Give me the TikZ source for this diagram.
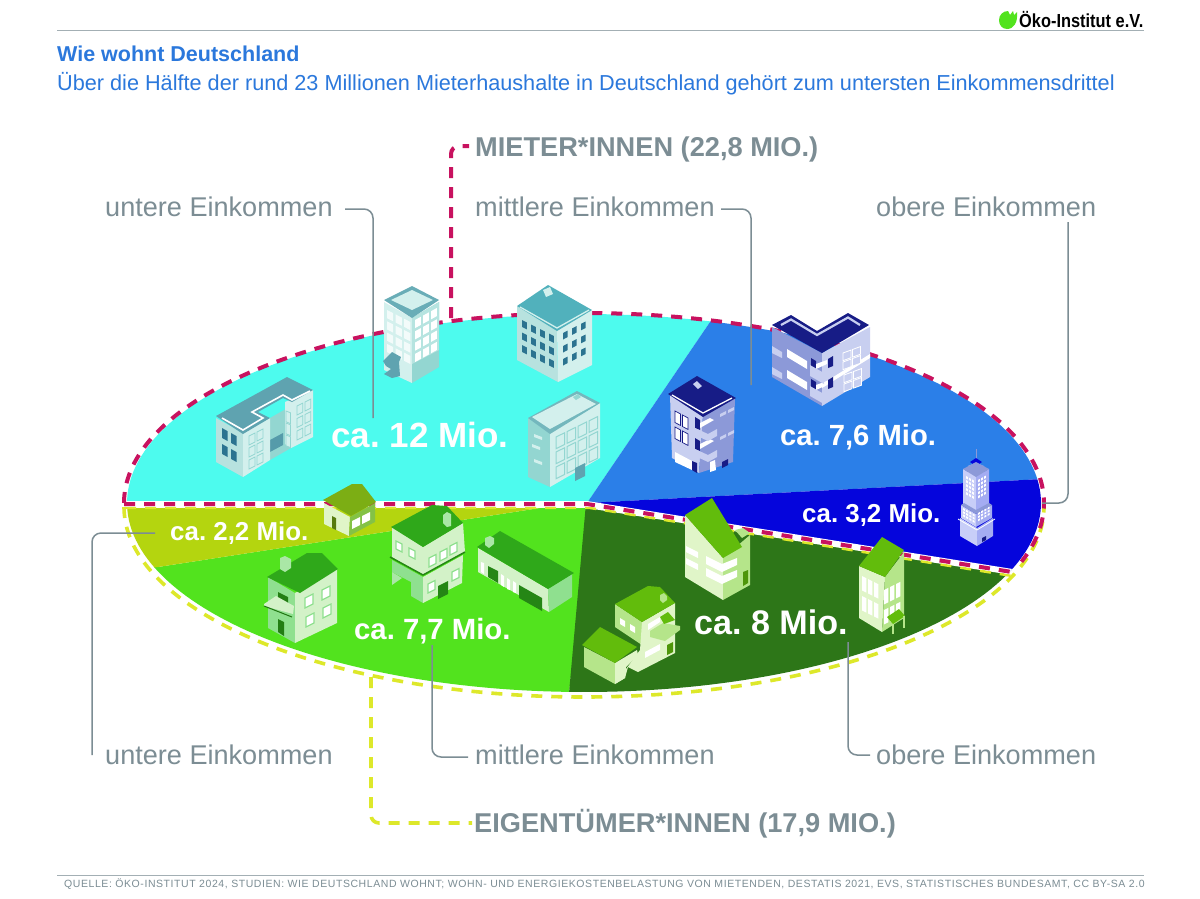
\documentclass[tikz,border=0pt]{standalone}
\usepackage{fontspec}
\usepackage{graphicx}
\setmainfont{Liberation Sans}
\newfontfamily\footfont[LetterSpace=5.4]{Liberation Sans}
\AtBeginDocument{\frenchspacing}
\definecolor{cyanS}{HTML}{4DFBEE}
\definecolor{blueS}{HTML}{2B7FE8}
\definecolor{navyS}{HTML}{0505DC}
\definecolor{dgreenS}{HTML}{2D7618}
\definecolor{lgreenS}{HTML}{52E31E}
\definecolor{oliveS}{HTML}{B4D50F}
\definecolor{redD}{HTML}{C8125F}
\definecolor{yelD}{HTML}{DDE82A}
\definecolor{grayL}{HTML}{7C8D94}
\definecolor{titleB}{HTML}{2B78DC}
\definecolor{tealA}{HTML}{B7E2DF}
\definecolor{tealB}{HTML}{D3F0ED}
\definecolor{tealC}{HTML}{93D6D1}
\definecolor{tealR}{HTML}{5FA3B0}
\definecolor{tealD}{HTML}{2B7390}
\definecolor{navyB}{HTML}{171C86}
\definecolor{bluA}{HTML}{8C99D8}
\definecolor{bluB}{HTML}{C8CFF0}
\definecolor{towA}{HTML}{C8CEF8}
\definecolor{towB}{HTML}{A4ACF2}
\definecolor{gnR}{HTML}{2FA81A}
\definecolor{gnA}{HTML}{D3F2C8}
\definecolor{gnB}{HTML}{8FE08F}
\definecolor{liR}{HTML}{62BC0C}
\definecolor{liA}{HTML}{E0F5C8}
\definecolor{liB}{HTML}{B5E58A}
\definecolor{olR}{HTML}{7CAE14}
\newcommand\pg[2]{\fill[#1] plot[sharp plot] coordinates {#2} -- cycle;}
\newcommand\fwin[9]{\foreach \i in {1,...,#7}{\foreach \j in {1,...,#8}{%
 \path[#1] ({#2+(\i-1)*#4},{#3+(\i-1)*#5+(\j-1)*#6}) -- ++({#9*#4},{#9*#5}) -- ++(0,{#9*#6}) -- ++({-#9*#4},{-#9*#5}) -- cycle;}}}
\newcommand\win[6]{\path[#1] (#2,#3) -- ++(#4,#5) -- ++(0,#6) -- ++({-(#4)},{-(#5)}) -- cycle;}
\tikzset{
 lead/.style={draw=grayL,line width=1.5pt,rounded corners=9pt},
 reddash/.style={draw=redD,line width=4pt,dash pattern=on 11pt off 9pt},
 yeldash/.style={draw=yelD,line width=3.6pt,dash pattern=on 11pt off 9pt},
 lab/.style={text=grayL,font=\fontsize{27.1}{29}\selectfont,inner sep=0pt,anchor=base west},
 hdr/.style={text=grayL,font=\bfseries\fontsize{27.2}{29}\selectfont,inner sep=0pt,anchor=base west},
 val/.style={text=white,font=\bfseries,inner sep=0pt,anchor=base west},
 ttl/.style={text=titleB,inner sep=0pt,anchor=base west},
 thin rule/.style={draw=grayL!70,line width=1pt},
 gw/.style={fill=white,draw=gnB,line width=1.2pt},
}
\begin{document}
\begin{tikzpicture}[x=1pt,y=-1pt]
\useasboundingbox (0,0) rectangle (1200,898);
\fill[white] (0,0) rectangle (1200,898);
% ---- pie slices
\begin{scope}
\clip plot[domain=0:360,samples=240] ({584+457*cos(\x)},{503+189*sin(\x)}) -- cycle;
\pg{cyanS}{(100,503) (587,503) (710,322) (700,280) (100,280)}
\pg{blueS}{(587,503) (710,322) (712,280) (1080,280) (1080,477)}
\pg{navyS}{(587,503) (1080,477) (1080,590) (1012,572)}
\pg{lgreenS}{(590,506) (569,693) (566,720) (100,720) (100,570) (158,567) (540,508)}
\pg{dgreenS}{(586,503) (1012,572) (1080,590) (1080,720) (566,720) (569,693)}
\pg{oliveS}{(100,506) (540,508) (158,567) (100,576)}
\fill[white] (120,501) rectangle (587,508);
\pg{white}{(587,501) (1025,571) (1025,577) (587,508)}
\end{scope}
% ---- dashed outlines
\draw[yeldash] plot[domain=0:180,samples=200] ({584+460*cos(180-\x)},{507+190*sin(180-\x)});
\draw[yeldash,line width=2.4pt] (125,508) -- (590,508) -- (1012,576);
\draw[reddash] (124,504) -- (587,504) -- (1012,572);
\draw[reddash] plot[domain=180:378,samples=240] ({584+460*cos(\x)},{503+190*sin(\x)});
\coordinate (mieterEnd) at (451,318);
\coordinate (eigenEnd) at (371,677);
% ---- header
\node[ttl,font=\bfseries\fontsize{21.5}{24}\selectfont] (title) at (57,61) {Wie wohnt Deutschland};
\node[ttl,font=\fontsize{21.67}{24}\selectfont] (sub) at (57,90) {Über die Hälfte der rund 23 Millionen Mieterhaushalte in Deutschland gehört zum untersten Einkommensdrittel};
\draw[thin rule] (57,30) -- (1144,30);
\draw[thin rule] (57,875) -- (1144,875);
% logo
\fill[lgreenS] (1008,11) -- (1010,15) -- (1013,11) -- (1014,15) -- (1017,12) .. controls (1018,22) and (1014,29) .. (1007,29) .. controls (1002,29) and (999,25) .. (999,20) .. controls (999,15) and (1003,11) .. (1008,11) -- cycle;
\node[inner sep=0pt,anchor=base west,font=\bfseries\fontsize{18}{20}\selectfont] (logo) at (1019,27) {\scalebox{0.91}[1.05]{Öko-Institut e.V.}};
% ---- group labels
\node[hdr] (mieter) at (475,156) {MIETER*INNEN (22,8 MIO.)};
\node[hdr] (eigen) at (474,832) {EIGENTÜMER*INNEN (17,9 MIO.)};
\node[lab] (uo) at (105,216) {untere Einkommen};
\node[lab] (mo) at (475,216) {mittlere Einkommen};
\node[lab] (oo) at (876,216) {obere Einkommen};
\node[lab] (uu) at (105,764) {untere Einkommen};
\node[lab] (mu) at (475,764) {mittlere Einkommen};
\node[lab] (ou) at (876,764) {obere Einkommen};
% ---- connectors
\draw[reddash,rounded corners=8pt,shorten >=6pt] (mieterEnd) -- (451,146) -- (mieter.west |- 0,146);
\draw[yeldash,rounded corners=8pt,shorten >=2pt] (eigenEnd) -- (371,823) -- (eigen.west |- 0,823);
\coordinate (a1) at (373,418); \coordinate (a2) at (751,385); \coordinate (a3) at (1042,503);
\coordinate (a4) at (155,533); \coordinate (a5) at (432,645); \coordinate (a6) at (848,642);
\draw[lead] (345,209) -- (373,209) -- (a1);
\draw[lead] (721,209) -- (751,209) -- (a2);
\draw[lead] (1068,222) -- (1068,503) -- (a3);
\draw[lead] (a4) -- (92,533) -- (92,755);
\draw[lead] (a5) -- (432,757) -- (468,757);
\draw[lead] (a6) -- (848,755) -- (870,755);
% ---- B1 wide cyan building
\pg{tealC}{(270,418) (291,406) (291,448) (270,460)}
\pg{tealD!60!tealC}{(270,452) (283,445) (283,433) (270,440)}
\pg{tealB}{(285,402) (313,390) (313,437) (291,448) (285,444)}
\pg{tealA}{(216,418) (243,433) (243,477) (216,462)}
\pg{tealB}{(243,433) (270,418) (270,460) (243,477)}
\pg{tealR}{(216,416) (287,377) (313,390) (292,402) (283,398) (258,412) (270,418) (243,434)}
\draw[white,line width=1.6pt] (222,418) -- (243,430) -- (263,418) -- (252,412) -- (283,395) -- (292,400) -- (310,391);
\fwin{fill=tealD}{222}{428}{9}{5}{16}{2}{2}{0.62}
\fwin{fill=tealB,draw=tealC,line width=.8pt}{249}{436}{8}{-4}{12}{2}{3}{0.75}
\fwin{fill=tealB,draw=tealC,line width=.8pt}{297}{406}{8}{-4}{12.5}{2}{3}{0.72}
\fwin{fill=tealB,draw=tealC,line width=.8pt}{286}{411}{5}{2}{12}{1}{3}{0.9}
% ---- B2 tall cyan building
\pg{tealB}{(384,302) (412,318) (412,383) (384,370)}
\pg{tealC}{(412,318) (439,302) (439,367) (412,383)}
\pg{tealC!45!tealB}{(412,318) (439,302) (439,350) (412,364)}
\pg{tealR!80!tealC}{(384,300) (412,286) (439,300) (412,318)}
\pg{tealB}{(391,300) (412,290) (433,300) (412,310)}
\fwin{fill=white,opacity=.75}{387}{310}{8.6}{4.4}{11.3}{3}{4}{0.72}
\fwin{fill=white}{415}{320}{8}{-4.4}{11.3}{3}{4}{0.72}
\pg{tealR}{(383,361) (392,352) (401,357) (399,362) (400,376) (392,378) (384,374) (391,369) (386,366)}
% ---- B3 cyan with dark roof
\pg{tealA}{(517,306) (557,329) (558,382) (517,360)}
\pg{tealB}{(557,329) (592,310) (592,365) (558,382)}
\pg{tealR!85!cyan}{(517,306) (548,285) (592,310) (557,331)}
\draw[tealB,line width=1.3pt] (520,307) -- (557,328) -- (589,310);
\pg{tealB}{(543,290) (550,287) (553,294) (546,297)}
\fwin{fill=tealD}{522}{320}{9}{4.5}{12.5}{4}{3}{0.55}
\fwin{fill=tealD}{563}{333}{9}{-4.6}{13}{3}{3}{0.5}
% ---- B4 cyan with light roof
\pg{tealC}{(528,418) (550,433) (550,487) (528,477)}
\pg{tealB}{(550,433) (600,403) (600,458) (550,487)}
\pg{tealR!60!tealC}{(528,418) (577,391) (600,403) (550,434)}
\pg{tealB}{(532,417) (577,394) (596,404) (550,429)}
\pg{tealC}{(573,397) (578,394) (581,397) (576,400)}
\fwin{fill=tealB,draw=tealC,line width=1pt}{556}{437}{11}{-5.4}{15}{4}{3}{0.78}
\win{fill=tealB}{534}{434}{8}{3}{3}
\win{fill=tealB}{532}{444}{8}{3}{3}
\win{fill=tealB}{534}{459}{8}{3}{3}
\pg{tealR}{(575,468) (585,463) (585,476) (575,481)}
% ---- B5 blue V building
\pg{bluA}{(772,327) (822,353) (822,406) (772,377)}
\pg{bluB}{(822,353) (870,327) (870,377) (822,406)}
\pg{navyB}{(772,325) (791,315) (817,331) (848,313) (869,325) (822,353)}
\draw[bluB,line width=2.2pt] (781,325) -- (791,319.5) -- (817,335) -- (848,317.5) -- (860,325);
\pg{white}{(787,349) (807,361) (807,369) (787,357)}
\pg{white}{(787,370) (807,382) (807,390) (787,378)}
\pg{white}{(822,384) (870,354) (870,358) (822,388)}
\fwin{fill=bluB,draw=white,line width=.8pt}{843}{353}{9.5}{-3.5}{9}{2}{2}{0.85}
\fwin{fill=bluB,draw=white,line width=.8pt}{844}{375}{9.5}{-3.5}{9}{2}{2}{0.85}
\pg{navyB}{(811,358) (816,361) (816,370) (811,367)}
\pg{navyB}{(811,379) (816,382) (816,391) (811,388)}
\pg{navyB}{(828,359) (833,356) (833,366) (828,368)}
\pg{navyB}{(828,380) (833,377) (833,387) (828,389)}
\pg{white}{(816,364) (827,360) (827,364) (816,369)}
\pg{white}{(816,385) (827,381) (827,385) (816,390)}
\pg{bluB}{(810,365) (824,373) (824,384) (810,376)}
\pg{bluB}{(810,386) (824,394) (824,404) (810,396)}
\pg{bluB}{(772,346) (782,352) (782,358) (772,353)}
\pg{bluB}{(772,367) (782,373) (782,379) (772,374)}
% ---- B6 blue with balconies
\pg{bluB}{(670,395) (703,415) (699,473) (672,458)}
\pg{bluA}{(703,415) (735,398) (733,462) (699,473)}
\pg{navyB}{(668,394) (697,376) (736,398) (703,417)}
\draw[white,line width=1.3pt] (672,395) -- (703,413) -- (732,398);
\pg{bluB}{(693,384) (697,381) (702,386) (698,389)}
\fwin{fill=white,draw=navyB,line width=.7pt}{675}{411}{7.5}{4}{16}{2}{2}{0.72}
\pg{white}{(675,452) (692,461) (692,470) (675,462)}
\pg{navyB}{(695,417) (700,420) (700,430) (695,428)}
\pg{navyB}{(695,438) (700,441) (700,451) (695,449)}
\pg{white}{(700,423) (710,418) (714,420) (700,428)}
\pg{white}{(700,444) (710,439) (714,441) (700,449)}
\pg{bluB}{(695,428) (708,434) (717,429) (717,436) (708,441) (695,435)}
\pg{bluB}{(695,449) (708,455) (717,450) (717,457) (708,462) (695,456)}
\win{fill=bluB}{720}{414}{6}{-3}{3}
\win{fill=bluB}{728}{410}{6}{-3}{3}
\win{fill=bluB}{720}{437}{6}{-3}{3}
\win{fill=bluB}{728}{433}{6}{-3}{3}
\pg{navyB}{(692,461) (697,463) (697,473) (692,470)}
\pg{white}{(710,462) (715,460) (716,470) (710,472)}
\pg{navyB}{(722,462) (728,459) (728,465) (722,468)}
% ---- B7 tower
\draw[bluA,line width=1pt] (976,449) -- (976,460);
\pg{towB}{(976,463) (984,466) (984,476) (976,480)}
\pg{towA}{(968,466) (976,463) (976,480) (968,476)}
\pg{navyS}{(970,462) (976,458) (982,462) (976,466)}
\pg{towA}{(963,469) (976,477) (976,512) (963,504)}
\pg{towB}{(976,477) (989,469) (989,504) (976,512)}
\pg{bluA}{(963,469) (976,462) (989,469) (976,477)}
\pg{towA}{(961,505) (976,514) (976,527) (961,518)}
\pg{towB}{(976,514) (992,505) (992,518) (976,527)}
\pg{bluA}{(961,505) (964,503) (976,510) (989,503) (992,505) (976,514)}
\pg{towA}{(960,518) (977,528) (977,546) (960,536)}
\pg{towB}{(977,528) (993,518) (993,536) (977,546)}
\fwin{fill=white}{966}{476}{3}{1.7}{4}{3}{5}{0.6}
\fwin{fill=white}{978}{480}{3}{-1.7}{4}{3}{5}{0.6}
\fwin{fill=white}{963}{508}{3.2}{1.8}{3.2}{4}{3}{0.6}
\fwin{fill=white}{978}{513}{3.2}{-1.8}{3.2}{4}{3}{0.6}
\draw[white,line width=.8pt] (958,519) -- (977,530) -- (995,519);
\pg{navyB}{(982,538) (986,536) (986,540) (982,542)}
% ---- H1 olive house
\pg{liA}{(324,503) (350,517) (349,536) (324,524)}
\pg{gnB!40!olR}{(350,517) (375,503) (375,522) (349,536)}
\pg{olR}{(323,500) (352,484) (362,484) (376,502) (351,516)}
\pg{olR!70!black}{(332,516) (336,518) (336,530) (332,528)}
\pg{white}{(352,521) (360,517) (360,525) (352,529)}
\pg{white}{(362,516) (370,512) (370,520) (362,524)}
% ---- H2 two-storey
\pg{gnA}{(392,527) (423,547) (423,575) (392,557)}
\pg{gnA}{(423,547) (463,523) (465,552) (423,575)}
\pg{gnB}{(392,560) (423,577) (423,603) (411,596) (411,582) (392,572)}
\pg{gnA}{(423,577) (463,555) (462,583) (423,603)}
\pg{gnB!60!gnA}{(392,572) (402,578) (392,585)}
\draw[gnR!80!black,line width=1.5pt] (390,557) -- (423,575) -- (465,552);
\pg{gnR}{(391,527) (432,505) (447,506) (463,523) (423,547)}
\pg{gnB!60!gnA}{(443,515) (447,512) (451,514) (451,526) (447,527) (443,523)}
\win{gw}{396}{541}{6}{3}{8}
\win{gw}{409}{548}{6}{3}{8}
\win{gw}{429}{558}{7}{-3.5}{9}
\win{gw}{440}{552}{7}{-3.5}{9}
\win{gw}{450}{546}{7}{-3.5}{9}
\win{gw}{428}{584}{7}{-3.5}{9}
\win{gw}{452}{572}{7}{-3.5}{9}
\pg{gnR!80!black}{(438,586) (448,581) (448,594) (438,599)}
% ---- H3 long
\pg{gnA}{(478,548) (548,589) (549,612) (478,572)}
\pg{gnB}{(548,589) (572,574) (572,597) (549,612)}
\pg{gnR}{(477,547) (500,531) (574,573) (548,589)}
\pg{gnB!60!gnA}{(485,538) (490,536) (494,538) (494,544) (489,548) (485,545)}
\pg{gnR!80!black}{(519,585) (542,598) (542,611) (519,598)}
\pg{gnR!80!black}{(488,566) (498,571) (498,583) (488,577)}
\pg{white}{(481,562) (484,563) (484,574) (481,572)}
\pg{white}{(501,574) (504,576) (504,587) (501,585)}
\pg{white}{(507,578) (510,580) (510,590) (507,589)}
\pg{white}{(513,581) (516,583) (516,593) (513,592)}
% ---- H4 house with balcony
\pg{gnB}{(268,577) (295,593) (295,643) (268,628)}
\pg{gnA}{(295,593) (337,569) (337,623) (295,643)}
\pg{gnR}{(267,577) (307,553) (322,553) (338,569) (300,593)}
\pg{gnB!60!gnA}{(280,558) (285,556) (291,559) (291,568) (285,572) (280,569)}
\win{gw}{305}{598}{8}{-4}{10}
\win{gw}{322}{590}{8}{-4}{10}
\win{gw}{306}{617}{8}{-4}{10}
\win{gw}{323}{608}{8}{-4}{10}
\pg{gnR!75!black}{(278,592) (288,597) (288,608) (278,603)}
\pg{gnR!75!black}{(278,619) (284,622) (284,636) (278,632)}
\pg{gnA}{(264,604) (276,596) (294,606) (293,614) (264,606)}
\draw[gnR!70!black,line width=1pt] (264,606) -- (292,617);
% ---- H5 tall light green
\pg{liA}{(685,515) (723,558) (723,600) (685,577)}
\pg{liB}{(723,558) (750,535) (750,585) (723,600)}
\pg{liR}{(685,515) (712,498) (742,547) (723,558)}
\pg{liB}{(735,530) (743,528) (750,533) (742,538)}
\pg{white}{(686,546) (698,552) (698,558) (686,552)}
\pg{white}{(686,558) (698,564) (698,570) (686,564)}
\pg{white}{(706,556) (722,564) (737,558) (737,565) (722,572) (706,564)}
\pg{white}{(706,568) (722,576) (737,570) (737,577) (722,584) (706,576)}
\pg{liR!80!black}{(743,572) (748,570) (748,583) (743,586)}
% ---- H6 narrow
\pg{liA}{(859,566) (885,577) (882,632) (859,618)}
\pg{liB}{(885,577) (904,552) (904,618) (882,632)}
\pg{liR}{(859,566) (882,537) (904,550) (885,577)}
\fwin{fill=white}{862}{576}{6}{3}{20}{3}{2}{0.72}
\fwin{fill=white}{884}{590}{6}{-3}{20}{3}{2}{0.72}
\pg{liR}{(887,617) (899,609) (905,616) (893,624)}
\draw[liB,line width=1.2pt] (893,624) -- (893,634) (904,616) -- (904,628);
% ---- H7 double house
\pg{liB}{(615,604) (642,622) (642,645) (615,627)}
\pg{liA}{(642,622) (675,603) (675,653) (638,672) (628,667) (625,678) (615,684) (640,650)}
\pg{liB}{(584,647) (615,663) (615,684) (584,667)}
\pg{liA}{(615,663) (637,650) (638,655) (626,667) (625,678) (615,684)}
\pg{liR}{(615,604) (648,586) (660,587) (675,603) (642,622)}
\pg{liR}{(582,645) (600,627) (637,647) (615,663)}
\pg{liB}{(660,595) (664,593) (667,596) (667,600) (663,603) (660,600)}
\pg{white}{(620,618) (625,621) (625,627) (620,624)}
\pg{white}{(630,624) (635,627) (635,633) (630,630)}
\pg{white}{(648,624) (660,617) (660,622) (648,630)}
\pg{white}{(645,652) (660,644) (660,650) (645,658)}
\pg{liB}{(650,631) (663,623) (680,626) (680,630) (665,641) (650,637)}
\pg{liR}{(660,617) (668,612) (675,620) (664,624)}
\pg{liR!80!black}{(667,645) (673,642) (673,652) (667,655)}
% ---- values
\node[val,font=\bfseries\fontsize{35}{40}\selectfont] (v12) at (331,447) {ca. 12 Mio.};
\node[val,font=\bfseries\fontsize{29.2}{32}\selectfont] (v76) at (780,445) {ca. 7,6 Mio.};
\node[val,font=\bfseries\fontsize{25.9}{28}\selectfont] (v32) at (802,522) {ca. 3,2 Mio.};
\node[val,font=\bfseries\fontsize{25.9}{28}\selectfont] (v22) at (170,540) {ca. 2,2 Mio.};
\node[val,font=\bfseries\fontsize{29.3}{32}\selectfont] (v77) at (354,639) {ca. 7,7 Mio.};
\node[val,font=\bfseries\fontsize{34.1}{38}\selectfont] (v8) at (694,634) {ca. 8 Mio.};
% footer
\node[inner sep=0pt,anchor=base west,text=grayL,font=\footfont\fontsize{10.5}{12}\selectfont] (src) at (64,887) {QUELLE: ÖKO-INSTITUT 2024, STUDIEN: WIE DEUTSCHLAND WOHNT; WOHN- UND ENERGIEKOSTENBELASTUNG VON MIETENDEN, DESTATIS 2021, EVS, STATISTISCHES BUNDESAMT, CC BY-SA 2.0};
\end{tikzpicture}
\end{document}
